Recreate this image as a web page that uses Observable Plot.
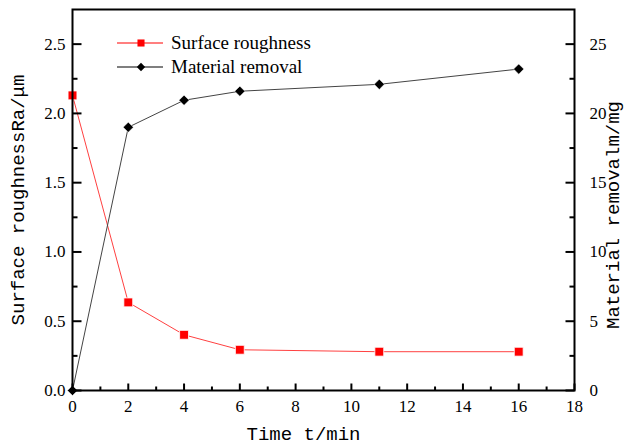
<!DOCTYPE html>
<html><head><meta charset="utf-8">
<script src="https://cdn.jsdelivr.net/npm/d3@7"></script>
<script src="https://cdn.jsdelivr.net/npm/@observablehq/plot@0.6"></script>
<style>
body{margin:0;background:#fff}
#wrap{position:relative;width:627px;height:446px}
#legend{position:absolute;left:117px;top:31px;font-family:"Liberation Serif",serif;font-size:19px;color:#000}
#legend .row{display:flex;align-items:center;height:24px}
#legend svg{margin-right:8px}
</style>
</head><body><div id="wrap"><div id="legend"></div></div>
<script>
const time = [0, 2, 4, 6, 11, 16];
const roughness = [2.13, 0.636, 0.402, 0.294, 0.28, 0.28];
const removal = [0, 19.0, 20.95, 21.6, 22.1, 23.2];
const seriesNames = ["Surface roughness", "Material removal"];
const seriesColors = ["#ff0000", "#000000"];
const xTicks = [0, 2, 4, 6, 8, 10, 12, 14, 16, 18];
const xMinor = [1, 3, 5, 7, 9, 11, 13, 15, 17];
const leftTicks = [0, 0.5, 1.0, 1.5, 2.0, 2.5];
const leftMinor = [0.25, 0.75, 1.25, 1.75, 2.25];
const rightTicks = [0, 5, 10, 15, 20, 25];
const rightMinor = [2.5, 7.5, 12.5, 17.5, 22.5];
const xTitle = "Time t/min";
const leftTitle = "Surface roughnessRa/\u03bcm";
const rightTitle = "Material removalm/mg";
const ratio = 10; // right axis = left axis * 10

const rough = time.map((t, i) => ({t, v: roughness[i]}));
const rem = time.map((t, i) => ({t, v: removal[i] / ratio}));
const monoFont = "Liberation Mono, DejaVu Sans Mono, monospace";

// inward tick glyphs drawn as custom dot symbols
const tickSym = (dx, dy) => ({draw(ctx) { ctx.moveTo(0, 0); ctx.lineTo(dx, dy); }});
const tickStyle = {fill: "none", stroke: "#000", strokeWidth: 2, r: 1};

const chart = Plot.plot({
  width: 627, height: 446,
  marginLeft: 72, marginRight: 53, marginTop: 9, marginBottom: 56,
  x: {domain: [0, 18]},
  y: {domain: [0, 2.75]},
  style: {fontFamily: "Liberation Serif, serif", fontSize: "17px", color: "#000", background: "#fff"},
  marks: [
    Plot.line(rough, {x: "t", y: "v", stroke: seriesColors[0], strokeWidth: 1, strokeOpacity: 0.75}),
    Plot.line(rem, {x: "t", y: "v", stroke: "#444", strokeWidth: 1}),
    Plot.dot(rough, {x: "t", y: "v", symbol: "square", r: 5, fill: seriesColors[0], stroke: "#fff", strokeWidth: 0.8}),
    Plot.dot(rem, {x: "t", y: "v", symbol: "diamond2", r: 4.6, fill: seriesColors[1], stroke: "#fff", strokeWidth: 0.5}),
    // tick labels
    Plot.axisX({ticks: xTicks, tickSize: 0, tickPadding: 9, tickFormat: d => String(d), label: null}),
    Plot.axisY({ticks: leftTicks, anchor: "left", tickSize: 0, tickPadding: 7, tickFormat: d3.format(".1f"), label: null}),
    Plot.axisY({ticks: rightTicks.map(v => v / ratio), anchor: "right", tickSize: 0, tickPadding: 15, tickFormat: v => String(Math.round(v * ratio)), label: null}),
    // inward ticks
    Plot.dot(xTicks, {x: d => d, frameAnchor: "bottom", symbol: tickSym(0, -7), ...tickStyle}),
    Plot.dot(xMinor, {x: d => d, frameAnchor: "bottom", symbol: tickSym(0, -4), ...tickStyle}),
    Plot.dot(leftTicks, {y: d => d, frameAnchor: "left", symbol: tickSym(9, 0), ...tickStyle}),
    Plot.dot(leftMinor, {y: d => d, frameAnchor: "left", symbol: tickSym(5, 0), ...tickStyle}),
    Plot.dot(rightTicks, {y: d => d / ratio, frameAnchor: "right", symbol: tickSym(-9, 0), ...tickStyle}),
    Plot.dot(rightMinor, {y: d => d / ratio, frameAnchor: "right", symbol: tickSym(-5, 0), ...tickStyle}),
    Plot.frame({stroke: "#000", strokeWidth: 2}),
    Plot.text([xTitle], {frameAnchor: "bottom", textAnchor: "middle", lineAnchor: "middle", dx: -20, dy: 43, fontFamily: monoFont, fontSize: 19}),
    Plot.text([leftTitle], {frameAnchor: "left", textAnchor: "middle", lineAnchor: "middle", rotate: -90, dx: -55, fontFamily: monoFont, fontSize: 19}),
    Plot.text([rightTitle], {frameAnchor: "right", textAnchor: "middle", lineAnchor: "middle", rotate: -90, dx: 38, dy: 15, fontFamily: monoFont, fontSize: 19})
  ]
});
document.getElementById("wrap").prepend(chart);

const legend = document.getElementById("legend");
seriesNames.forEach((name, i) => {
  const row = document.createElement("div");
  row.className = "row";
  const ns = "http://www.w3.org/2000/svg";
  const svg = document.createElementNS(ns, "svg");
  svg.setAttribute("width", 46); svg.setAttribute("height", 20);
  const line = document.createElementNS(ns, "line");
  line.setAttribute("x1", 0); line.setAttribute("x2", 46);
  line.setAttribute("y1", 10); line.setAttribute("y2", 10);
  line.setAttribute("stroke", seriesColors[i]); line.setAttribute("stroke-width", 1.2);
  svg.appendChild(line);
  const p = document.createElementNS(ns, "path");
  p.setAttribute("d", d3.symbol(i === 0 ? d3.symbolSquare : d3.symbolDiamond2, i === 0 ? 50 : 45)());
  p.setAttribute("transform", "translate(24,10)");
  p.setAttribute("fill", seriesColors[i]);
  svg.appendChild(p);
  row.appendChild(svg);
  const span = document.createElement("span");
  span.textContent = name;
  row.appendChild(span);
  legend.appendChild(row);
});
</script>
</body></html>
